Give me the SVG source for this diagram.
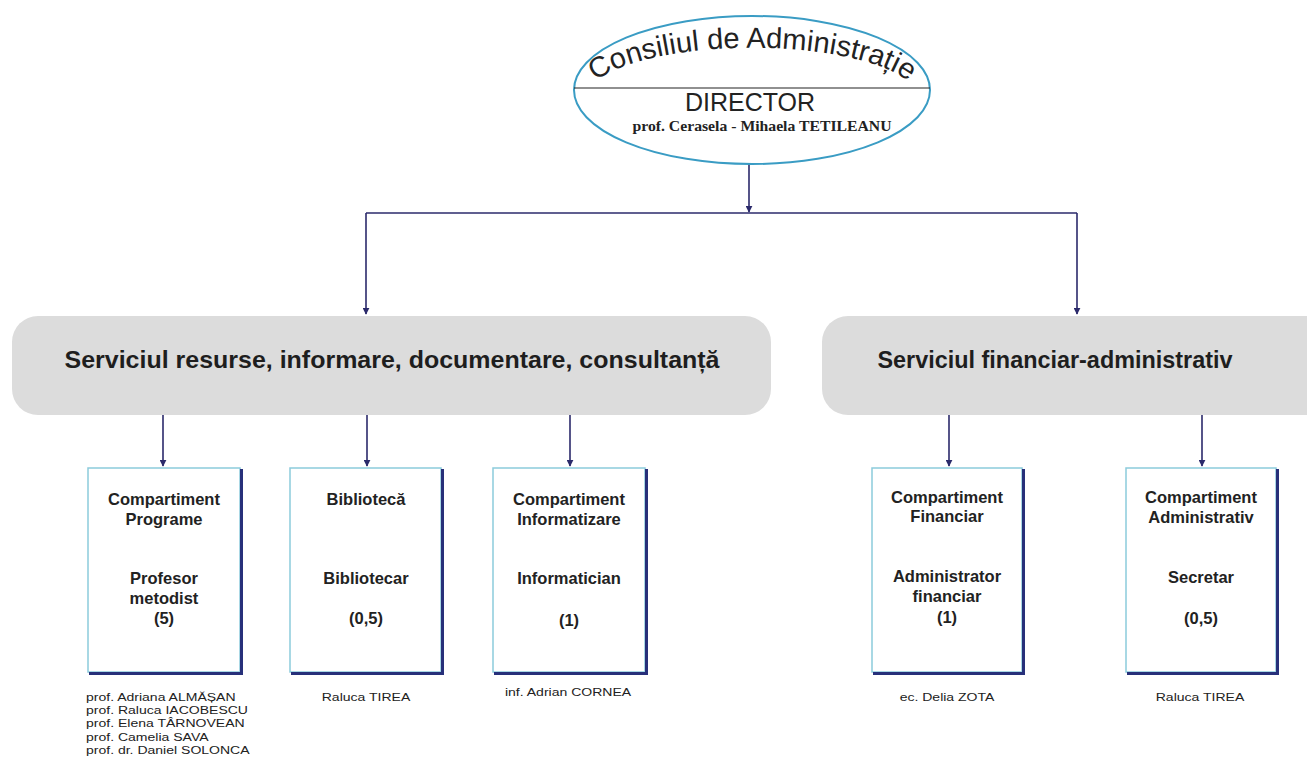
<svg xmlns="http://www.w3.org/2000/svg" width="1307" height="765" viewBox="0 0 1307 765">
<style>
.conn{stroke:#2b2a6b;stroke-width:1.6;fill:none}
.svc{fill:#dcdcdc}
.svct{font-family:"Liberation Sans",Arial,sans-serif;font-weight:bold;font-size:24px;fill:#1e1e1e;text-anchor:middle}
.box{fill:#fff;stroke:#8ccbdc;stroke-width:1.5}
.sh{stroke:#27307a;stroke-width:3;fill:none}
.bt{font-family:"Liberation Sans",Arial,sans-serif;font-weight:bold;font-size:16.5px;fill:#222;text-anchor:middle}
.nm{font-family:"Liberation Sans",Arial,sans-serif;font-size:11.5px;fill:#222}
.c{text-anchor:middle}
</style>
<defs>
<marker id="ah" viewBox="0 0 10 10" refX="9" refY="5" markerWidth="7" markerHeight="7" orient="auto" markerUnits="userSpaceOnUse">
<path d="M0,0 L10,5 L0,10 z" fill="#2b2a6b"/>
</marker>
<path id="arc" d="M 595 82 A 167 52 0 0 1 909 82"/>
</defs>
<rect width="1307" height="765" fill="#fff"/>
<g id="connectors">
<line class="conn" x1="749" y1="164" x2="749" y2="212" marker-end="url(#ah)"/>
<path class="conn" d="M366 213 H1077"/>
<line class="conn" x1="366" y1="213" x2="366" y2="314" marker-end="url(#ah)"/>
<line class="conn" x1="1077" y1="213" x2="1077" y2="314" marker-end="url(#ah)"/>
<line class="conn" x1="163" y1="415" x2="163" y2="466" marker-end="url(#ah)"/>
<line class="conn" x1="367" y1="415" x2="367" y2="466" marker-end="url(#ah)"/>
<line class="conn" x1="570" y1="415" x2="570" y2="466" marker-end="url(#ah)"/>
<line class="conn" x1="949" y1="415" x2="949" y2="466" marker-end="url(#ah)"/>
<line class="conn" x1="1202" y1="415" x2="1202" y2="466" marker-end="url(#ah)"/>
</g>
<g id="consiliu">
<ellipse cx="752" cy="90" rx="178" ry="74" fill="#fff" stroke="#3a9cc4" stroke-width="2"/>
<line x1="574" y1="88" x2="930" y2="88" stroke="#222" stroke-width="1.2"/>
<text font-family="'Liberation Sans',Arial,sans-serif" font-size="29" fill="#222" text-anchor="middle"><textPath href="#arc" startOffset="50%">Consiliul de Administrație</textPath></text>
<text x="750" y="111" font-family="'Liberation Sans',Arial,sans-serif" font-size="25" fill="#222" text-anchor="middle">DIRECTOR</text>
<text x="762" y="131" font-family="'Liberation Serif','DejaVu Serif',serif" font-weight="bold" font-size="15.5" fill="#222" text-anchor="middle" textLength="259" lengthAdjust="spacingAndGlyphs">prof. Cerasela - Mihaela TETILEANU</text>
</g>
<g id="serviciu-resurse">
<rect class="svc" x="12" y="316" width="759" height="99" rx="26"/>
<text class="svct" x="392" y="368" textLength="655" lengthAdjust="spacingAndGlyphs">Serviciul resurse, informare, documentare, consultanță</text>
</g>
<g id="serviciu-financiar">
<rect class="svc" x="822" y="316" width="520" height="99" rx="26"/>
<text class="svct" x="1055" y="368" textLength="355" lengthAdjust="spacingAndGlyphs">Serviciul financiar-administrativ</text>
</g>
<g id="comp-programe">
<rect class="box" x="88" y="468" width="152" height="204"/>
<path class="sh" d="M241.5 469 V673.5 H89"/>
<text class="bt" x="164" y="505">Compartiment</text>
<text class="bt" x="164" y="525">Programe</text>
<text class="bt" x="164" y="584">Profesor</text>
<text class="bt" x="164" y="604">metodist</text>
<text class="bt" x="164" y="624">(5)</text>
<g transform="translate(86 0) scale(1.22 1)">
<text class="nm" x="0" y="701">prof. Adriana ALMĂȘAN</text>
<text class="nm" x="0" y="714">prof. Raluca IACOBESCU</text>
<text class="nm" x="0" y="727">prof. Elena TÂRNOVEAN</text>
<text class="nm" x="0" y="741">prof. Camelia SAVA</text>
<text class="nm" x="0" y="754">prof. dr. Daniel SOLONCA</text>
</g>
</g>
<g id="biblioteca">
<rect class="box" x="290" y="468" width="151" height="204"/>
<path class="sh" d="M442.5 469 V673.5 H291"/>
<text class="bt" x="366" y="505">Bibliotecă</text>
<text class="bt" x="366" y="584">Bibliotecar</text>
<text class="bt" x="366" y="624">(0,5)</text>
<text class="nm c" transform="translate(366 0) scale(1.22 1)" x="0" y="701">Raluca TIREA</text>
</g>
<g id="comp-informatizare">
<rect class="box" x="493" y="468" width="152" height="204"/>
<path class="sh" d="M646.5 469 V673.5 H494"/>
<text class="bt" x="569" y="505">Compartiment</text>
<text class="bt" x="569" y="525">Informatizare</text>
<text class="bt" x="569" y="584">Informatician</text>
<text class="bt" x="569" y="626">(1)</text>
<text class="nm c" transform="translate(568 0) scale(1.22 1)" x="0" y="696">inf. Adrian CORNEA</text>
</g>
<g id="comp-financiar">
<rect class="box" x="872" y="468" width="150" height="204"/>
<path class="sh" d="M1023.5 469 V673.5 H873"/>
<text class="bt" x="947" y="503">Compartiment</text>
<text class="bt" x="947" y="522">Financiar</text>
<text class="bt" x="947" y="582">Administrator</text>
<text class="bt" x="947" y="602">financiar</text>
<text class="bt" x="947" y="623">(1)</text>
<text class="nm c" transform="translate(947 0) scale(1.22 1)" x="0" y="701">ec. Delia ZOTA</text>
</g>
<g id="comp-administrativ">
<rect class="box" x="1126" y="468" width="150" height="204"/>
<path class="sh" d="M1277.5 469 V673.5 H1127"/>
<text class="bt" x="1201" y="503">Compartiment</text>
<text class="bt" x="1201" y="523">Administrativ</text>
<text class="bt" x="1201" y="583">Secretar</text>
<text class="bt" x="1201" y="624">(0,5)</text>
<text class="nm c" transform="translate(1200 0) scale(1.22 1)" x="0" y="701">Raluca TIREA</text>
</g>
</svg>
